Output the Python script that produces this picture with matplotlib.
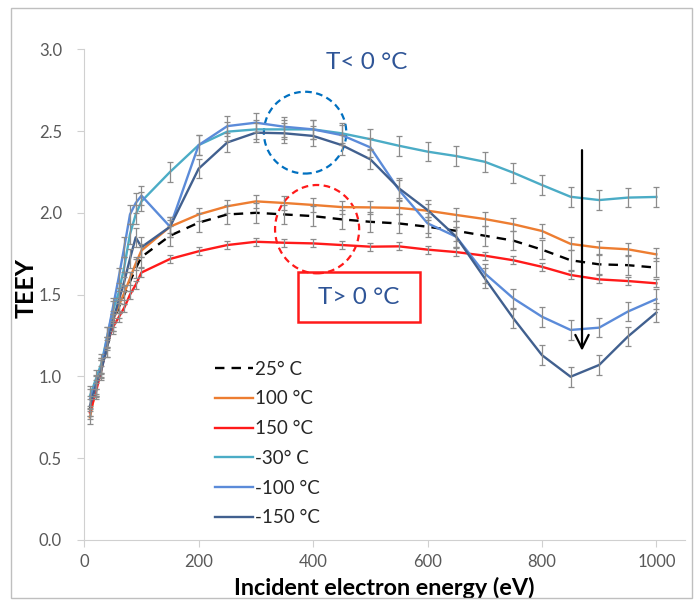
import matplotlib
matplotlib.use("Agg")
import matplotlib.pyplot as plt
from matplotlib.patches import Ellipse, Rectangle

plt.rcParams["font.family"] = ["Lato", "DejaVu Sans"]

energy = [10, 20, 30, 40, 50, 60, 70, 80, 90, 100, 150, 200, 250, 300, 350, 400, 450,
          500, 550, 600, 650, 700, 750, 800, 850, 900, 950, 1000]

teey_p25 = [0.80, 0.92, 1.05, 1.18, 1.32, 1.42, 1.50, 1.58, 1.66, 1.73, 1.86, 1.94, 1.99, 2.00,
            1.99, 1.98, 1.96, 1.945, 1.935, 1.915, 1.89, 1.86, 1.83, 1.775, 1.71, 1.685, 1.68, 1.665]
teey_p100 = [0.75, 0.92, 1.06, 1.20, 1.34, 1.43, 1.51, 1.60, 1.69, 1.77, 1.915, 1.99, 2.04, 2.07,
             2.06, 2.048, 2.035, 2.033, 2.03, 2.013, 1.987, 1.962, 1.93, 1.889, 1.81, 1.787, 1.777, 1.746]
teey_p150 = [0.78, 0.90, 1.04, 1.20, 1.30, 1.36, 1.42, 1.50, 1.56, 1.635, 1.718, 1.765, 1.803, 1.823,
             1.817, 1.813, 1.803, 1.793, 1.795, 1.775, 1.76, 1.738, 1.71, 1.67, 1.62, 1.593, 1.583, 1.569]
teey_m30 = [0.88, 0.98, 1.08, 1.24, 1.40, 1.51, 1.67, 1.87, 1.99, 2.07, 2.25, 2.414, 2.496, 2.51,
            2.51, 2.51, 2.486, 2.45, 2.41, 2.374, 2.347, 2.312, 2.245, 2.17, 2.098, 2.078, 2.093, 2.097]
teey_m100 = [0.86, 0.95, 1.055, 1.24, 1.42, 1.60, 1.79, 1.99, 2.06, 2.105, 1.915, 2.414, 2.53, 2.551,
             2.526, 2.51, 2.475, 2.40, 2.14, 1.936, 1.854, 1.63, 1.477, 1.365, 1.284, 1.298, 1.396, 1.473]
teey_m150 = [0.82, 0.94, 1.04, 1.18, 1.34, 1.46, 1.58, 1.72, 1.85, 1.79, 1.915, 2.27, 2.43, 2.49,
             2.486, 2.47, 2.414, 2.327, 2.15, 2.017, 1.854, 1.60, 1.355, 1.13, 0.998, 1.07, 1.243, 1.39]

labels = ["25° C", "100 °C", "150 °C", "-30° C", "-100 °C", "-150 °C"]
errs = [0.06, 0.04, 0.025, 0.06, 0.06, 0.06]
colors = ["black", "#ED7D31", "#FF1A1A", "#4BACC6", "#5B8BD9", "#41608F"]
styles = [(0, (4, 3)), "-", "-", "-", "-", "-"]
series = [teey_p25, teey_p100, teey_p150, teey_m30, teey_m100, teey_m150]

fig = plt.figure(figsize=(6.95, 6.01), dpi=100)
ax = fig.add_axes([0.1212, 0.1015, 0.8644, 0.8166])

for y, e in zip(series, errs):
    ax.errorbar(energy, y, yerr=e, fmt="none", ecolor="#8C8C8C", elinewidth=0.9,
                capsize=2.2, capthick=0.9, zorder=3)
for y, lab, c, ls in zip(series, labels, colors, styles):
    ax.plot(energy, y, color=c, ls=ls, lw=1.7, label=lab, zorder=2)

ax.set_xlim(0, 1050)
ax.set_ylim(0, 3.0)
ax.set_xticks([0, 200, 400, 600, 800, 1000])
ax.set_yticks([0.0, 0.5, 1.0, 1.5, 2.0, 2.5, 3.0])
ax.set_yticklabels(["0.0", "0.5", "1.0", "1.5", "2.0", "2.5", "3.0"])
ax.tick_params(colors="#D0D0D0", labelcolor="#595959", labelsize=12, length=5, width=0.8)
ax.tick_params(axis="y", pad=11)
ax.tick_params(axis="x", pad=5)
for s in ["top", "right"]:
    ax.spines[s].set_visible(False)
for s in ["left", "bottom"]:
    ax.spines[s].set_color("#D0D0D0")
    ax.spines[s].set_linewidth(0.8)

ax.set_xlabel("Incident electron energy (eV)", fontsize=16.8, fontweight="bold")
ax.set_ylabel("TEEY", fontsize=18, fontweight="bold")
ax.xaxis.set_label_coords(0.5, -0.075)
ax.yaxis.set_label_coords(-0.077, 0.513)

# annotations
ax.add_patch(Ellipse((386, 2.49), 144, 0.50, fill=False, ec="#0070C0", ls=(0, (3, 2)), lw=1.6))
ax.add_patch(Ellipse((407, 1.90), 147, 0.54, fill=False, ec="#FF1A1A", ls=(0, (3, 2)), lw=1.6))
ax.text(494, 2.92, "T< 0 °C", color="#2F5597", fontsize=17.5, ha="center", va="center")
ax.text(479, 1.485, "T> 0 °C", color="#2F5597", fontsize=17.5, ha="center", va="center")
ax.add_patch(Rectangle((374, 1.33), 212, 0.31, fill=False, ec="#FF1A1A", lw=1.8))
ax.annotate("", xy=(870, 1.14), xytext=(870, 2.40),
            arrowprops=dict(arrowstyle="->", color="black", lw=1.6, mutation_scale=24))

ax.legend(loc="upper left", bbox_to_anchor=(0.19, 0.40), frameon=False, fontsize=13.5,
          handlelength=2.0, handletextpad=0.1, labelspacing=0.68, labelcolor="#262626")

fig.patches.append(Rectangle((11 / 695, 3 / 601), 681 / 695, 590 / 601, transform=fig.transFigure,
                             fill=False, ec="#BFBFBF", lw=1.0))

fig.savefig("out.png", dpi=100)
